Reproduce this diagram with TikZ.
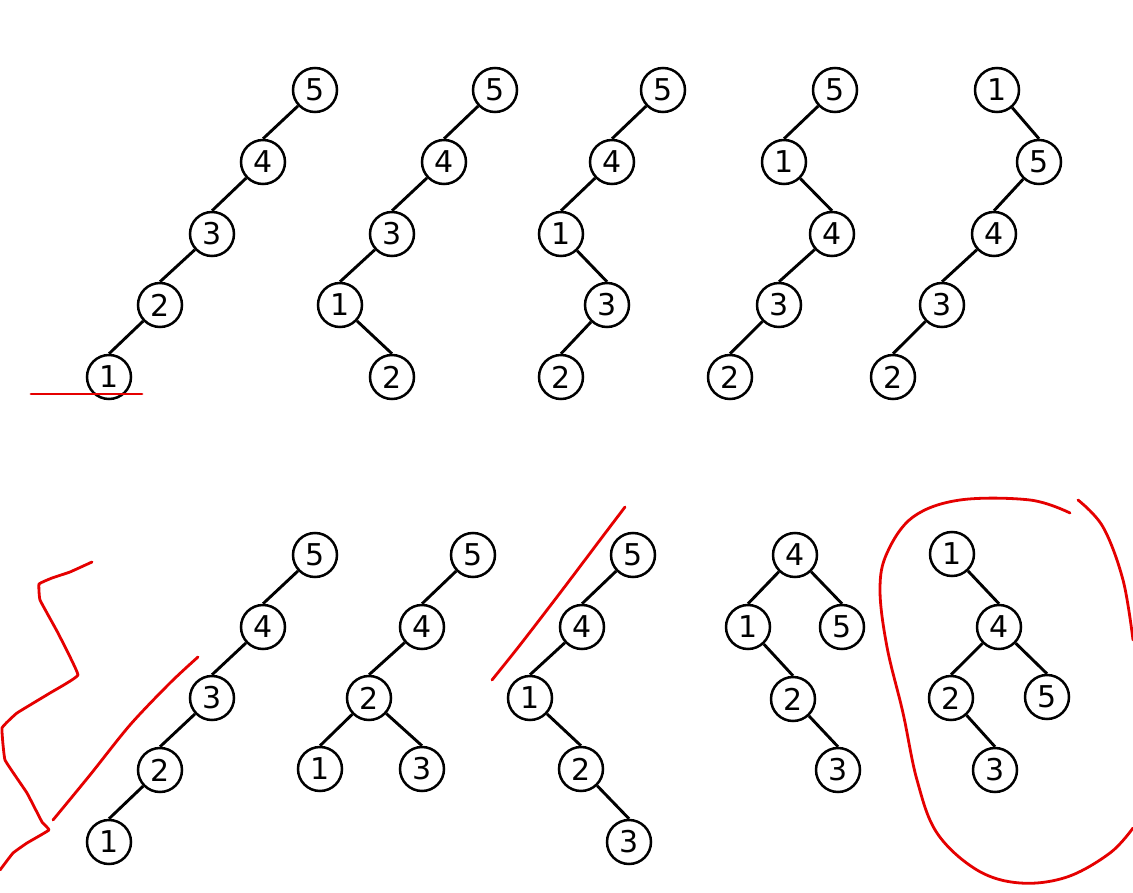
\documentclass[tikz,border=0pt]{standalone}
\usepackage{fontspec}
\setmainfont{DejaVu Sans}
\begin{document}
\begin{tikzpicture}[x=1pt,y=-1pt,
  tn/.style={circle,draw,line width=2.5pt,minimum size=44pt,inner sep=0pt,
    font=\fontsize{30}{32}\selectfont},
  ed/.style={line width=2.9pt},
  pen/.style={draw=red!90!black,line width=2.8pt,line cap=round,line join=round}]
\useasboundingbox[fill=white] (0,0) rectangle (1133,893);

% Tree 1
\node[tn] (a5) at (315,90) {5};
\node[tn] (a4) at (263,162) {4};
\node[tn] (a3) at (212,234) {3};
\node[tn] (a2) at (160,305) {2};
\node[tn] (a1) at (109,377) {1};
\draw[ed] (a5)--(a4.north) (a4)--(a3.north) (a3)--(a2.north) (a2)--(a1.north);

% Tree 2
\node[tn] (b5) at (495,90) {5};
\node[tn] (b4) at (444,162) {4};
\node[tn] (b3) at (392,234) {3};
\node[tn] (b1) at (340,305) {1};
\node[tn] (b2) at (392,377) {2};
\draw[ed] (b5)--(b4.north) (b4)--(b3.north) (b3)--(b1.north) (b1)--(b2.north);

% Tree 3
\node[tn] (c5) at (663,90) {5};
\node[tn] (c4) at (612,162) {4};
\node[tn] (c1) at (561,234) {1};
\node[tn] (c3) at (607,305) {3};
\node[tn] (c2) at (561,377) {2};
\draw[ed] (c5)--(c4.north) (c4)--(c1.north) (c1)--(c3.north) (c3)--(c2.north);

% Tree 4
\node[tn] (d5) at (835,90) {5};
\node[tn] (d1) at (784,162) {1};
\node[tn] (d4) at (832,234) {4};
\node[tn] (d3) at (779,305) {3};
\node[tn] (d2) at (730,377) {2};
\draw[ed] (d5)--(d1.north) (d1)--(d4.north) (d4)--(d3.north) (d3)--(d2.north);

% Tree 5
\node[tn] (e1) at (997,90) {1};
\node[tn] (e5) at (1039,162) {5};
\node[tn] (e4) at (994,234) {4};
\node[tn] (e3) at (942,305) {3};
\node[tn] (e2) at (893,377) {2};
\draw[ed] (e1)--(e5.north) (e5)--(e4.north) (e4)--(e3.north) (e3)--(e2.north);

% Tree 6
\node[tn] (f5) at (315,555) {5};
\node[tn] (f4) at (263,627) {4};
\node[tn] (f3) at (212,698) {3};
\node[tn] (f2) at (160,770) {2};
\node[tn] (f1) at (109,842) {1};
\draw[ed] (f5)--(f4.north) (f4)--(f3.north) (f3)--(f2.north) (f2)--(f1.north);

% Tree 7
\node[tn] (g5) at (473,555) {5};
\node[tn] (g4) at (422,627) {4};
\node[tn] (g2) at (369,698) {2};
\node[tn] (g1) at (320,769) {1};
\node[tn] (g3) at (422,769) {3};
\draw[ed] (g5)--(g4.north) (g4)--(g2.north) (g2)--(g1.north) (g2)--(g3.north);

% Tree 8
\node[tn] (h5) at (633,555) {5};
\node[tn] (h4) at (582,627) {4};
\node[tn] (h1) at (530,698) {1};
\node[tn] (h2) at (581,769) {2};
\node[tn] (h3) at (629,842) {3};
\draw[ed] (h5)--(h4.north) (h4)--(h1.north) (h1)--(h2.north) (h2)--(h3.north);

% Tree 9
\node[tn] (i4) at (795,555) {4};
\node[tn] (i1) at (748,627) {1};
\node[tn] (i5) at (842,627) {5};
\node[tn] (i2) at (793,699) {2};
\node[tn] (i3) at (838,770) {3};
\draw[ed] (i4)--(i1.north) (i4)--(i5.north) (i1)--(i2.north) (i2)--(i3.north);

% Tree 10
\node[tn] (j1) at (952,554) {1};
\node[tn] (j4) at (999,627) {4};
\node[tn] (j2) at (951,698) {2};
\node[tn] (j5) at (1047,697) {5};
\node[tn] (j3) at (995,770) {3};
\draw[ed] (j1)--(j4.north) (j4)--(j2.north) (j4)--(j5.north) (j2)--(j3.north);

% Red pen marks
\draw[pen] (31,394) -- (142,394);
\draw[pen] plot[smooth,tension=0.15] coordinates {(92,562) (70,572) (52,578) (39,584) (40,600) (58,633) (78,675) (50,693) (17,713) (2,728) (5,760) (27,793) (42,822) (49,830) (27,843) (13,853) (0,870)};
\draw[pen] plot[smooth,tension=0.5] coordinates {(53,820) (90,775) (130,725) (170,683) (198,657)};
\draw[pen] plot[smooth,tension=0.5] coordinates {(492,680) (520,645) (560,593) (600,540) (625,507)};
\draw[pen] plot[smooth,tension=0.6] coordinates {(1070,513) (1030,500) (960,500) (913,517) (887,553) (880,590) (887,647) (903,713) (917,780) (937,833) (977,870) (1020,883) (1067,877) (1110,853) (1133,828)};
\draw[pen] plot[smooth,tension=0.6] coordinates {(1078,500) (1103,527) (1123,580) (1133,640)};
\end{tikzpicture}
\end{document}
